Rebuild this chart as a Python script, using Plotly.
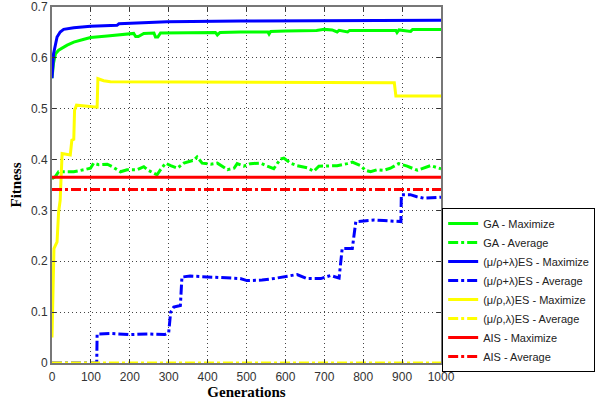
import plotly.graph_objects as go

# ---- data ----
ga_max_x = [0, 4, 9, 17, 39, 56, 80, 99, 142, 185, 210, 215, 222, 236, 262, 266, 272, 279, 350, 420, 425, 432, 485, 555, 558, 562, 600, 680, 700, 720, 733, 738, 760, 765, 800, 884, 887, 892, 922, 927, 1000]
ga_max_y = [0.56, 0.59, 0.608, 0.615, 0.625, 0.631, 0.636, 0.640, 0.643, 0.646, 0.648, 0.642, 0.642, 0.648, 0.649, 0.641, 0.641, 0.649, 0.650, 0.650, 0.645, 0.650, 0.651, 0.651, 0.647, 0.652, 0.653, 0.654, 0.656, 0.655, 0.651, 0.654, 0.651, 0.654, 0.654, 0.654, 0.650, 0.655, 0.652, 0.656, 0.656]

ga_avg_x = [0, 9, 17, 30, 56, 82, 99, 107, 120, 142, 155, 176, 193, 219, 236, 245, 262, 270, 279, 292, 305, 322, 339, 365, 373, 386, 408, 425, 451, 468, 476, 493, 510, 536, 553, 570, 587, 596, 613, 630, 656, 673, 686, 707, 733, 759, 772, 793, 806, 819, 836, 853, 870, 891, 913, 939, 956, 973, 1000]
ga_avg_y = [0.362, 0.367, 0.376, 0.376, 0.376, 0.380, 0.383, 0.393, 0.390, 0.391, 0.386, 0.376, 0.380, 0.380, 0.386, 0.380, 0.373, 0.370, 0.380, 0.393, 0.388, 0.383, 0.393, 0.399, 0.405, 0.393, 0.391, 0.393, 0.380, 0.383, 0.392, 0.387, 0.392, 0.393, 0.387, 0.382, 0.401, 0.403, 0.393, 0.388, 0.384, 0.377, 0.387, 0.388, 0.388, 0.392, 0.395, 0.388, 0.379, 0.376, 0.380, 0.379, 0.383, 0.392, 0.387, 0.379, 0.383, 0.388, 0.382]

es_plus_max_x = [0, 4, 13, 21, 30, 56, 99, 167, 172, 296, 485, 1000]
es_plus_max_y = [0.56, 0.608, 0.641, 0.651, 0.656, 0.659, 0.662, 0.664, 0.667, 0.671, 0.6725, 0.674]

es_plus_avg_x = [0, 115, 116, 150, 200, 250, 290, 300, 305, 313, 330, 334, 355, 420, 484, 501, 540, 570, 630, 656, 691, 716, 738, 746, 772, 781, 828, 853, 887, 897, 898, 921, 938, 956, 1000]
es_plus_avg_y = [0.0, 0.0, 0.057, 0.058, 0.056, 0.057, 0.056, 0.060, 0.100, 0.110, 0.113, 0.169, 0.171, 0.168, 0.166, 0.162, 0.163, 0.166, 0.174, 0.166, 0.166, 0.172, 0.167, 0.225, 0.225, 0.278, 0.281, 0.280, 0.278, 0.278, 0.331, 0.331, 0.327, 0.324, 0.326]

es_comma_max_x = [0, 3, 5, 13, 17, 21, 26, 47, 51, 56, 58, 63, 90, 116, 118, 133, 150, 400, 880, 884, 1000]
es_comma_max_y = [0.05, 0.14, 0.225, 0.238, 0.297, 0.32, 0.412, 0.409, 0.438, 0.44, 0.497, 0.507, 0.505, 0.503, 0.559, 0.555, 0.553, 0.552, 0.551, 0.525, 0.525]

es_comma_avg_x = [0, 1000]
es_comma_avg_y = [0.0, 0.0]

ais_max_x = [0, 1000]
ais_max_y = [0.365, 0.365]
ais_avg_x = [0, 1000]
ais_avg_y = [0.341, 0.341]

names = ["GA - Maximize", "GA - Average",
         "(\u03bc/\u03c1+\u03bb)ES - Maximize", "(\u03bc/\u03c1+\u03bb)ES - Average",
         "(\u03bc/\u03c1,\u03bb)ES - Maximize", "(\u03bc/\u03c1,\u03bb)ES - Average",
         "AIS - Maximize", "AIS - Average"]

x_ticks = [0, 100, 200, 300, 400, 500, 600, 700, 800, 900, 1000]
y_ticks = [0, 0.1, 0.2, 0.3, 0.4, 0.5, 0.6, 0.7]
y_tick_text = ["0", "0.1", "0.2", "0.3", "0.4", "0.5", "0.6", "0.7"]

DASHDOT = "10px,3px,3px,3px"

series = [
    (ga_max_x, ga_max_y, "#00ff00", "solid"),
    (ga_avg_x, ga_avg_y, "#00ff00", DASHDOT),
    (es_plus_max_x, es_plus_max_y, "#0000ff", "solid"),
    (es_plus_avg_x, es_plus_avg_y, "#0000ff", DASHDOT),
    (es_comma_max_x, es_comma_max_y, "#ffff00", "solid"),
    (es_comma_avg_x, es_comma_avg_y, "#ffff00", DASHDOT),
    (ais_max_x, ais_max_y, "#ff0000", "solid"),
    (ais_avg_x, ais_avg_y, "#ff0000", DASHDOT),
]

fig = go.Figure()
for (xs, ys, col, dash), nm in zip(series, names):
    fig.add_trace(go.Scatter(x=xs, y=ys, mode="lines", name=nm,
                             line=dict(color=col, width=3, dash=dash)))

tickfont = dict(family="Liberation Sans Narrow, Arial Narrow, Liberation Sans, Arial", size=12, color="#333333")
titlefont = dict(family="Liberation Serif, Times New Roman, serif", size=15, color="#000000")

fig.update_layout(
    width=601, height=400,
    margin=dict(l=52, r=160, t=7, b=37, autoexpand=False),
    paper_bgcolor="white", plot_bgcolor="white",
    showlegend=True,
    legend=dict(x=1.003, y=0.4354, xanchor="left", yanchor="top",
                bgcolor="white", bordercolor="#000000", borderwidth=1,
                itemwidth=30,
                font=dict(family="Liberation Sans, Arial", size=11, color="#222222"),
                tracegroupgap=0),
)
fig.update_xaxes(range=[0, 1000], tickvals=x_ticks, ticktext=[str(v) for v in x_ticks],
                 automargin=False, ticklabelstandoff=2,
                 showgrid=True, gridcolor="#444444", griddash="1px,3px", gridwidth=1,
                 showline=True, linecolor="#777777", linewidth=2, mirror="ticks",
                 ticks="inside", ticklen=4, tickcolor="#333333",
                 zeroline=False, tickfont=tickfont,
                 title=dict(text="<b>Generations</b>", font=titlefont, standoff=0))
fig.update_yaxes(range=[0, 0.7], tickvals=y_ticks, ticktext=y_tick_text,
                 automargin=False,
                 showgrid=True, gridcolor="#444444", griddash="1px,3px", gridwidth=1,
                 showline=True, linecolor="#777777", linewidth=2, mirror="ticks",
                 ticks="inside", ticklen=4, tickcolor="#333333",
                 zeroline=False, tickfont=tickfont,
                 title=dict(text="<b>Fitness</b>", font=titlefont, standoff=6))

fig.write_html("out.html", config={"displayModeBar": False},
               post_script="document.body.style.margin='0px';")
